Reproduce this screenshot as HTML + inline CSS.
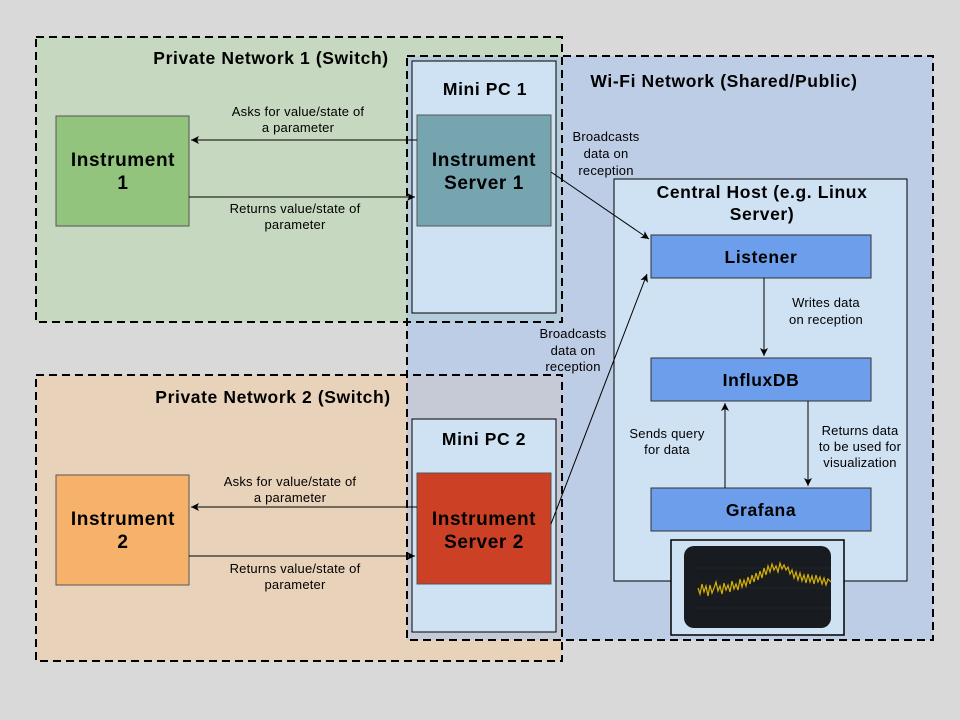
<!DOCTYPE html>
<html><head><meta charset="utf-8"><style>
html,body{margin:0;padding:0;background:#d9d9d9}
svg{display:block}
text{font-family:"Liberation Sans",sans-serif;fill:#000}
.t{font-weight:bold;font-size:17.5px;letter-spacing:0.6px}
.b{font-weight:bold;font-size:19px;letter-spacing:0.6px}
.s{font-size:13px;letter-spacing:0.2px}
</style></head><body>
<svg width="960" height="720" viewBox="0 0 960 720" xmlns="http://www.w3.org/2000/svg">
<defs><marker id="a" markerWidth="10" markerHeight="10" refX="8" refY="4" orient="auto" markerUnits="userSpaceOnUse"><path d="M0,0 L8,4 L0,8 L2,4 Z" fill="#000"/></marker></defs>
<rect width="960" height="720" fill="#d9d9d9"/>
<rect x="36" y="37" width="526" height="285" fill="#b6d7a8" fill-opacity="0.5" stroke="#000" stroke-width="2" stroke-dasharray="8,5"/>
<rect x="36" y="375" width="526" height="286" fill="#f9cb9c" fill-opacity="0.5" stroke="#000" stroke-width="2" stroke-dasharray="8,5"/>
<rect x="407" y="56" width="526" height="584" fill="#a4c2f4" fill-opacity="0.5" stroke="#000" stroke-width="2" stroke-dasharray="8,5"/>
<rect x="36" y="37" width="526" height="285" fill="none" stroke="#000" stroke-width="2" stroke-dasharray="8,5"/>
<rect x="36" y="375" width="526" height="286" fill="none" stroke="#000" stroke-width="2" stroke-dasharray="8,5"/>
<text class="t" x="271" y="64" text-anchor="middle">Private Network 1 (Switch)</text>
<text class="t" x="273" y="403" text-anchor="middle">Private Network 2 (Switch)</text>
<text class="t" x="724" y="87" text-anchor="middle">Wi-Fi Network (Shared/Public)</text>

<rect x="412" y="61" width="144" height="252" fill="#cfe2f3" stroke="#000"/>
<text class="t" x="485" y="95" text-anchor="middle">Mini PC 1</text>
<rect x="417" y="115" width="134" height="111" fill="#76a5af" stroke="#555"/>
<text class="b" x="484" y="166" text-anchor="middle">Instrument</text>
<text class="b" x="484" y="189" text-anchor="middle">Server 1</text>
<rect x="56" y="116" width="133" height="110" fill="#93c47d" stroke="#555"/>
<text class="b" x="123" y="166" text-anchor="middle">Instrument</text>
<text class="b" x="123" y="189" text-anchor="middle">1</text>
<line x1="417" y1="140" x2="191" y2="140" stroke="#000" marker-end="url(#a)"/>
<line x1="189" y1="197" x2="415" y2="197" stroke="#000" marker-end="url(#a)"/>
<text class="s" x="298" y="116" text-anchor="middle">Asks for value/state of</text>
<text class="s" x="298" y="132" text-anchor="middle">a parameter</text>
<text class="s" x="295" y="213" text-anchor="middle">Returns value/state of</text>
<text class="s" x="295" y="229" text-anchor="middle">parameter</text>

<rect x="412" y="419" width="144" height="213" fill="#cfe2f3" stroke="#000"/>
<text class="t" x="484" y="445" text-anchor="middle">Mini PC 2</text>
<rect x="417" y="473" width="134" height="111" fill="#cc4125" stroke="#555"/>
<text class="b" x="484" y="525" text-anchor="middle">Instrument</text>
<text class="b" x="484" y="548" text-anchor="middle">Server 2</text>
<rect x="56" y="475" width="133" height="110" fill="#f6b26b" stroke="#555"/>
<text class="b" x="123" y="525" text-anchor="middle">Instrument</text>
<text class="b" x="123" y="548" text-anchor="middle">2</text>
<line x1="417" y1="507" x2="191" y2="507" stroke="#000" marker-end="url(#a)"/>
<line x1="189" y1="556" x2="415" y2="556" stroke="#000" marker-end="url(#a)"/>
<text class="s" x="290" y="486" text-anchor="middle">Asks for value/state of</text>
<text class="s" x="290" y="502" text-anchor="middle">a parameter</text>
<text class="s" x="295" y="573" text-anchor="middle">Returns value/state of</text>
<text class="s" x="295" y="589" text-anchor="middle">parameter</text>

<text class="s" x="606" y="141" text-anchor="middle">Broadcasts</text>
<text class="s" x="606" y="158" text-anchor="middle">data on</text>
<text class="s" x="606" y="175" text-anchor="middle">reception</text>
<text class="s" x="573" y="338" text-anchor="middle">Broadcasts</text>
<text class="s" x="573" y="355" text-anchor="middle">data on</text>
<text class="s" x="573" y="371" text-anchor="middle">reception</text>

<rect x="614" y="179" width="293" height="402" fill="#cfe2f3" stroke="#000"/>
<text class="t" x="762" y="198" text-anchor="middle">Central Host (e.g. Linux</text>
<text class="t" x="762" y="220" text-anchor="middle">Server)</text>
<rect x="651" y="235" width="220" height="43" fill="#6d9eeb" stroke="#333"/>
<text class="t" x="761" y="263" text-anchor="middle">Listener</text>
<rect x="651" y="358" width="220" height="43" fill="#6d9eeb" stroke="#333"/>
<text class="t" x="761" y="386" text-anchor="middle">InfluxDB</text>
<rect x="651" y="488" width="220" height="43" fill="#6d9eeb" stroke="#333"/>
<text class="t" x="761" y="516" text-anchor="middle">Grafana</text>
<line x1="764" y1="278" x2="764" y2="356" stroke="#000" marker-end="url(#a)"/>
<line x1="725" y1="488" x2="725" y2="403" stroke="#000" marker-end="url(#a)"/>
<line x1="808" y1="401" x2="808" y2="486" stroke="#000" marker-end="url(#a)"/>
<text class="s" x="826" y="307" text-anchor="middle">Writes data</text>
<text class="s" x="826" y="324" text-anchor="middle">on reception</text>
<text class="s" x="667" y="438" text-anchor="middle">Sends query</text>
<text class="s" x="667" y="454" text-anchor="middle">for data</text>
<text class="s" x="860" y="435" text-anchor="middle">Returns data</text>
<text class="s" x="860" y="451" text-anchor="middle">to be used for</text>
<text class="s" x="860" y="467" text-anchor="middle">visualization</text>

<line x1="551" y1="172" x2="649" y2="239" stroke="#000" marker-end="url(#a)"/>
<line x1="551" y1="524" x2="647" y2="274" stroke="#000" marker-end="url(#a)"/>

<rect x="671" y="540" width="173" height="95" fill="#cfe2f3" stroke="#000" stroke-width="1.5"/>
<rect x="684" y="546" width="147" height="82" rx="10" fill="#181b1f"/>
<line x1="698" y1="568" x2="831" y2="568" stroke="#2a2d33" stroke-width="0.5"/>
<line x1="698" y1="588" x2="831" y2="588" stroke="#2a2d33" stroke-width="0.5"/>
<line x1="698" y1="608" x2="831" y2="608" stroke="#2a2d33" stroke-width="0.5"/>
<polyline fill="none" stroke="#d4b106" stroke-width="1.2" points="698,588 700,594 702,584 704,592 706,586 708,596 710,585 712,593 714,588 716,582 718,591 720,586 722,594 724,583 726,590 728,585 730,592 732,581 734,589 736,584 738,590 740,579 742,587 744,580 746,586 748,577 750,584 752,575 754,582 756,573 758,580 760,571 762,578 764,568 766,575 768,566 770,572 772,564 774,570 776,566 778,572 780,563 782,569 784,565 786,570 788,567 790,574 792,570 794,578 796,572 798,580 800,573 802,581 804,575 806,583 808,574 810,582 812,576 814,584 816,575 818,582 820,577 822,584 824,578 826,585 828,579 831,582"/>
</svg>
</body></html>
